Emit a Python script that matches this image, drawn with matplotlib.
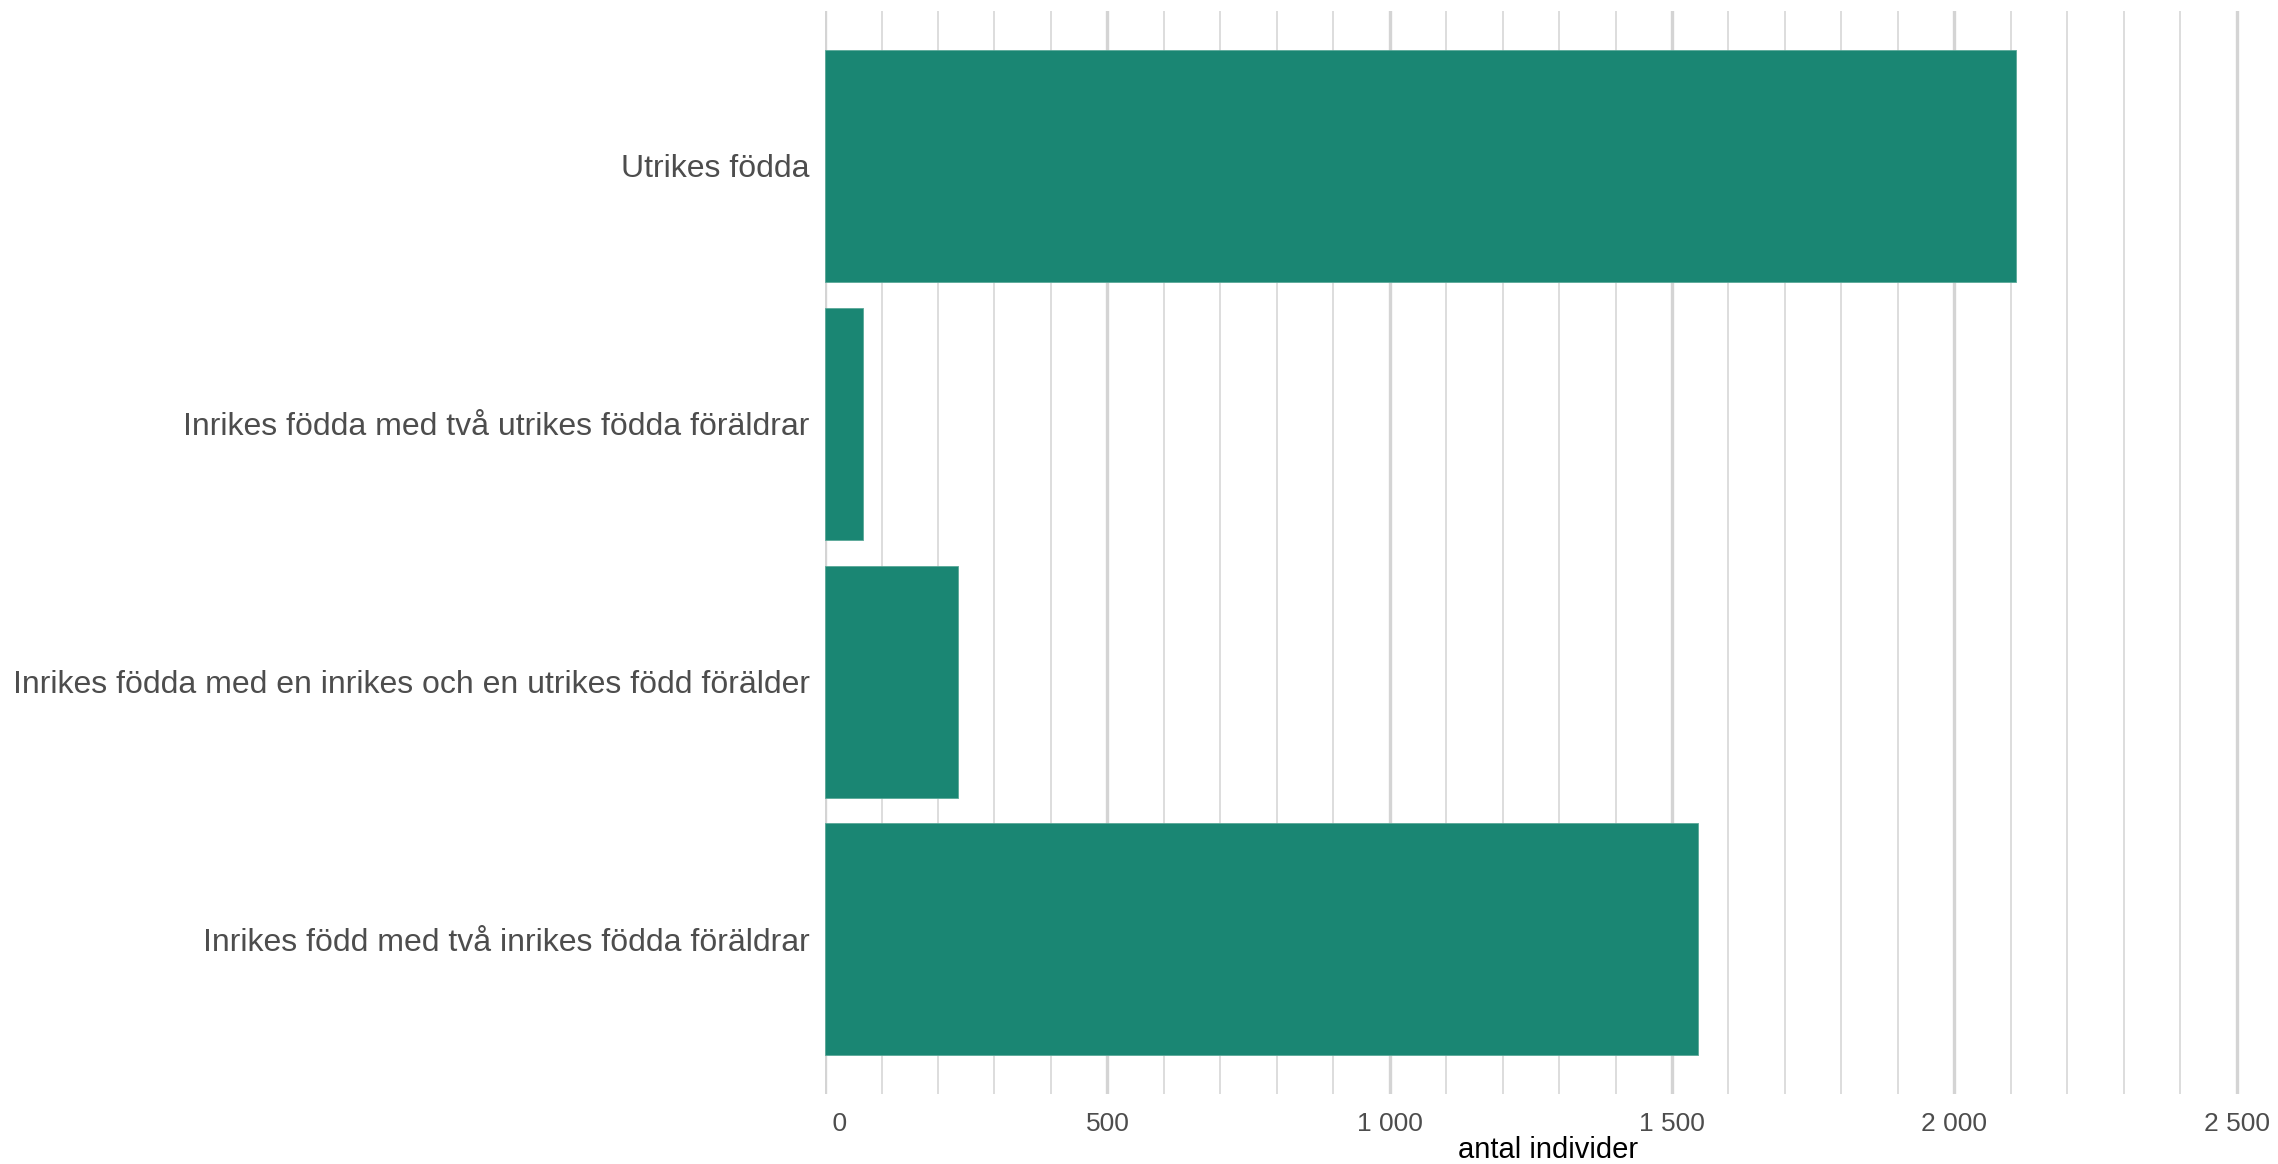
import numpy as np
import matplotlib
matplotlib.use("Agg")
import matplotlib.pyplot as plt
from matplotlib.ticker import MultipleLocator, FuncFormatter

# data, top to bottom as in the chart
categories = ['Utrikes födda',
              'Inrikes födda med två utrikes födda föräldrar',
              'Inrikes födda med en inrikes och en utrikes född förälder',
              'Inrikes född med två inrikes födda föräldrar']
values = [2110, 67, 236, 1546]

plt.rcParams['font.family'] = ['Liberation Sans', 'DejaVu Sans']

fig = plt.figure(figsize=(22.78, 11.64), dpi=100)
ax = fig.add_axes([0.3622, 0.0601, 0.6345, 0.9303])

ypos = np.arange(len(categories))[::-1]
ax.barh(ypos, values, height=0.9, color='#1a8673', edgecolor='#5aa898', linewidth=0.6, zorder=3)

def fmt(v, p):
    s = '{:,.0f}'.format(v).replace(',', ' ')
    # the 0 label sits a bit right of its gridline in the original
    return '    0' if s == '0' else s

ax.set_xlim(0, 2560)
ax.set_ylim(-0.6, 3.6)
ax.xaxis.set_major_locator(MultipleLocator(500))
ax.xaxis.set_minor_locator(MultipleLocator(100))
ax.xaxis.set_major_formatter(FuncFormatter(fmt))
ax.grid(axis='x', which='major', color='#d4d4d4', linewidth=2.4, zorder=0)
ax.grid(axis='x', which='minor', color='#dadada', linewidth=1.3, zorder=0)
ax.grid(axis='y', visible=False)

ax.set_yticks(ypos)
ax.set_yticklabels(categories)
ax.tick_params(axis='y', which='both', length=0, pad=11, labelsize=23, labelcolor='#4d4d4d')
ax.tick_params(axis='x', which='both', length=0, pad=13, labelsize=19, labelcolor='#4d4d4d')

for s in ax.spines.values():
    s.set_visible(False)

ax.set_xlabel('antal individer', fontsize=21, color='black', labelpad=0)

fig.savefig('out.png', dpi=100, facecolor='white')
